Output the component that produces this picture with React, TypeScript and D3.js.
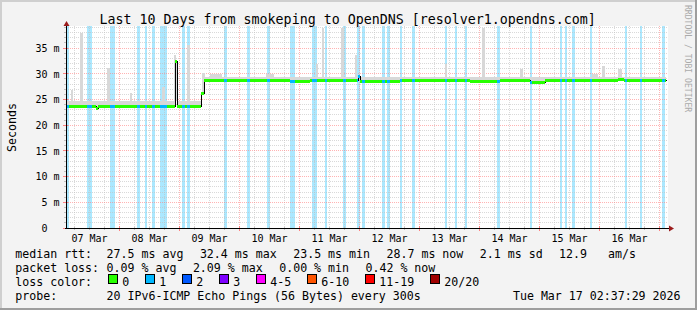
import React from 'react';
import * as d3 from 'd3';

// ---------- data ----------
const titleText = 'Last 10 Days from smokeping to OpenDNS [resolver1.opendns.com]';
const dayLabels = ['07 Mar', '08 Mar', '09 Mar', '10 Mar', '11 Mar', '12 Mar', '13 Mar', '14 Mar', '15 Mar', '16 Mar'];
const yTicks = [0, 5, 10, 15, 20, 25, 30, 35];
const yTickLabels = ['0  ', '5 m', '10 m', '15 m', '20 m', '25 m', '30 m', '35 m'];
const totalHours = 240; // 10 days
const firstMidnightH = 21.375; // start = Mar 7 02:37:29
const yMax = 39.3;

// median rtt: [startHour, endHour, ms]
const medianSegments: [number, number, number][] = [
  [0, 12.0, 23.6], [12.0, 12.8, 23.3], [12.8, 43.6, 23.6], [43.6, 44.4, 32.4],
  [44.4, 54.0, 23.6], [54.0, 55.4, 26.1], [55.4, 80.8, 28.7], [80.8, 89.6, 28.6],
  [89.6, 97.6, 28.5], [97.6, 111.6, 28.7], [111.6, 116.8, 28.6], [116.8, 117.6, 29.4],
  [117.6, 133.6, 28.5], [133.6, 141.6, 28.7], [141.6, 161.6, 28.6], [161.6, 173.6, 28.5],
  [173.6, 185.6, 28.6], [185.6, 191.6, 28.4], [191.6, 197.6, 28.6], [197.6, 213.6, 28.7],
  [213.6, 220.8, 28.6], [220.8, 223.2, 28.9], [223.2, 240, 28.7],
];
// loss events (1/20 lost): [startHour, durationHours]
const lossEvents: [number, number][] = [
  [0, 1.2], [8.4, 2.0], [17.6, 2.0], [28.4, 1.2], [31.6, 0.8], [34.4, 1.2], [37.6, 2.8],
  [46.4, 1.2], [48.4, 1.2], [63.2, 1.2], [72.4, 1.2], [80.4, 1.2], [89.6, 2.0], [98.4, 2.0],
  [103.6, 0.8], [110.8, 1.2], [116.4, 1.2], [118.4, 1.2], [126.4, 1.2], [128.4, 1.2],
  [133.6, 0.8], [138.4, 1.2], [151.6, 0.8], [155.6, 0.8], [159.6, 0.8], [172.4, 1.2],
  [185.6, 0.8], [197.6, 0.8], [199.6, 0.8], [202.4, 1.2], [209.6, 0.8], [223.6, 0.8],
  [229.6, 0.8], [238.4, 1.2],
];
// smoke upper edge base: [startHour, endHour, ms]
const smokeSegments: [number, number, number][] = [
  [0, 54.0, 24.8], [54.0, 55.4, 26.5], [55.4, 240, 29.4],
];
// smoke spikes: [startHour, durationHours, ms]
const smokeSpikes: [number, number, number][] = [
  [2.0, 0.8, 26.8], [5.6, 1.2, 38.0], [16.4, 1.2, 31.1], [25.6, 0.8, 26.3], [38.4, 1.2, 27.5],
  [43.2, 0.8, 33.6], [48.4, 1.2, 35.6], [54.4, 1.2, 30.1], [57.6, 4.8, 29.9], [80.0, 3.2, 29.9],
  [100.0, 0.8, 32.0], [102.4, 0.8, 39.0], [110.0, 1.2, 39.0], [115.6, 0.8, 33.6],
  [151.6, 0.8, 32.0], [166.4, 1.2, 38.9], [181.6, 1.2, 31.0], [210.4, 2.4, 29.9],
  [214.4, 1.2, 31.5], [220.8, 1.6, 31.0],
];

const lossLabels = ['0', '1', '2', '3', '4-5', '6-10', '11-19', '20/20'];
const lossColors = ['#26ff00', '#00b8ff', '#0059ff', '#7e00ff', '#ff00ff', '#ff5500', '#ff0000', '#a00000'];
const medianStats = ['27.5 ms avg', '32.4 ms max', '23.5 ms min', '28.7 ms now', '2.1 ms sd', '12.9   am/s'];
const lossStats = ['0.09 % avg', '2.09 % max', '0.00 % min', '0.42 % now'];
const probeText = '20 IPv6-ICMP Echo Pings (56 Bytes) every 300s';
const dateText = 'Tue Mar 17 02:37:29 2026';

// ---------- layout ----------
const W = 697, H = 310;
const PL = 66, PR = 666, PT = 26, PB = 228;
const FONT = "'DejaVu Sans Mono', monospace";
const STEP = 0.4;
const CHAR_W = 7.0;
const ITEM_GAP = 16.3;

function lookup(segs: [number, number, number][], h: number) {
  for (const s of segs) if (h >= s[0] && h < s[1]) return s[2];
  return segs[segs.length - 1][2];
}

function flow(items: string[], x0: number) {
  const xs: number[] = [];
  let x = x0;
  items.forEach(s => { xs.push(x); x += s.length * CHAR_W + ITEM_GAP; });
  return xs;
}

export default function App() {
  const xs = d3.scaleLinear().domain([0, totalHours]).range([PL, PR]);
  const ys = d3.scaleLinear().domain([0, yMax]).range([PB, PT]);
  const px = (v: number) => Math.floor(v) + 0.5;

  const n = Math.round(totalHours / STEP);
  const samples = d3.range(n).map(i => {
    const h = i * STEP;
    const c = h + STEP / 2;
    const med = lookup(medianSegments, c);
    let top = lookup(smokeSegments, c);
    for (const s of smokeSpikes) if (c >= s[0] && c < s[0] + s[1]) top = Math.max(top, s[2]);
    let loss = 0;
    for (const e of lossEvents) if (c >= e[0] && c < e[0] + e[1]) loss = 1;
    return { h, med, top, loss };
  });
  const ext = [...samples, { ...samples[n - 1], h: totalHours }];

  const smokeArea = d3.area<any>().curve(d3.curveStepAfter)
    .x(d => xs(d.h)).y0(d => ys(d.med - 0.25)).y1(d => ys(d.top))(ext) || '';
  const medLine = d3.line<any>().curve(d3.curveStepAfter)
    .x(d => Math.round(xs(d.h)) + 0.5).y(d => px(ys(d.med)))(ext) || '';

  const runs: { h0: number; h1: number; v: number; loss: number }[] = [];
  samples.forEach(s => {
    const last = runs[runs.length - 1];
    if (last && last.v === s.med && last.loss === s.loss) last.h1 = s.h + STEP;
    else runs.push({ h0: s.h, h1: s.h + STEP, v: s.med, loss: s.loss });
  });

  const yMinor = d3.range(0, Math.floor(yMax) + 1, 1).filter(v => v % 5 !== 0);
  const xMajor: number[] = [];
  const xMinor: number[] = [];
  for (let h = firstMidnightH - 24; h <= totalHours; h += 6) {
    if (h <= 0) continue;
    const k = Math.round((h - firstMidnightH) / 6);
    if (k % 4 === 0) xMajor.push(h); else xMinor.push(h);
  }
  const noonH = dayLabels.map((_, i) => firstMidnightH - 12 + 24 * i);

  const minorColor = 'rgba(192,192,192,0.6)';
  const majorColor = 'rgba(255,128,128,0.6)';

  const boxXs: number[] = [];
  let bx = 108.3;
  lossLabels.forEach(l => { boxXs.push(bx); bx += 14.7 + l.length * CHAR_W + 15.3; });

  const row1X = flow(medianStats, 107.3);
  const row2X = flow(lossStats, 107.3);
  const rowY = [258.3, 272.2, 286.1, 300];

  return (
    <svg width={W} height={H} style={{ position: 'absolute', left: 0, top: 0 }}
      xmlns="http://www.w3.org/2000/svg" fontFamily={FONT}>
      <rect x={0} y={0} width={W} height={H} fill="#f3f3f3" />
      <rect x={0} y={0} width={W} height={2} fill="#cfcfcf" />
      <rect x={0} y={0} width={2} height={H} fill="#cfcfcf" />
      <rect x={0} y={H - 2} width={W} height={2} fill="#9e9e9e" />
      <rect x={W - 2} y={0} width={2} height={H} fill="#9e9e9e" />

      <rect x={PL} y={PT} width={PR - PL + 2} height={PB - PT} fill="#ffffff" />

      {lossEvents.map((e, i) => (
        <rect key={'b' + i} x={xs(e[0])} y={PT} width={xs(e[0] + e[1]) - xs(e[0])} height={PB - PT}
          fill="#abe8ff" shapeRendering="crispEdges" />
      ))}

      <g shapeRendering="crispEdges" strokeWidth={1}>
        {yMinor.map(v => (
          <line key={'ym' + v} x1={PL} x2={PR + 2} y1={px(ys(v))} y2={px(ys(v))} stroke={minorColor} strokeDasharray="1,1" />
        ))}
        {xMinor.map(h => (
          <line key={'xm' + h} x1={px(xs(h))} x2={px(xs(h))} y1={PT} y2={PB} stroke={minorColor} strokeDasharray="1,1" />
        ))}
        {yTicks.filter(v => v > 0).map(v => (
          <line key={'yM' + v} x1={PL} x2={PR + 2} y1={px(ys(v))} y2={px(ys(v))} stroke={majorColor} strokeDasharray="1,1" />
        ))}
        {xMajor.map(h => (
          <line key={'xM' + h} x1={px(xs(h))} x2={px(xs(h))} y1={PT} y2={PB} stroke={majorColor} strokeDasharray="1,1" />
        ))}
        {yMinor.map(v => (
          <line key={'ymt' + v} x1={PL - 2} x2={PL + 1} y1={px(ys(v))} y2={px(ys(v))} stroke="#c0c0c0" />
        ))}
        {yTicks.map(v => (
          <line key={'yMt' + v} x1={PL - 3} x2={PL + 2} y1={px(ys(v))} y2={px(ys(v))} stroke="#ff8080" />
        ))}
        {xMinor.map(h => (
          <line key={'xmt' + h} x1={px(xs(h))} x2={px(xs(h))} y1={PB - 1} y2={PB + 2} stroke="#c0c0c0" />
        ))}
        {xMajor.map(h => (
          <line key={'xMt' + h} x1={px(xs(h))} x2={px(xs(h))} y1={PB - 2} y2={PB + 3} stroke="#ff8080" />
        ))}
      </g>

      <path d={smokeArea} fill="#d8d8d8" shapeRendering="crispEdges" />
      <path d={medLine} fill="none" stroke="#000" strokeWidth={1} shapeRendering="crispEdges" />
      <g shapeRendering="crispEdges">
        {runs.map((r, i) => (
          <line key={'r' + i} x1={xs(r.h0)} x2={xs(r.h1)} y1={px(ys(r.v))} y2={px(ys(r.v))}
            stroke={lossColors[r.loss]} strokeWidth={3} />
        ))}
      </g>

      <g shapeRendering="crispEdges">
        <line x1={PL + 0.5} x2={PL + 0.5} y1={PT - 2} y2={PB + 1} stroke="#000" />
        <line x1={PL - 1} x2={PR + 6} y1={PB + 0.5} y2={PB + 0.5} stroke="#000" />
      </g>
      <path d={`M${PL - 2.5},${PT} L${PL + 0.5},${PT - 5} L${PL + 3.5},${PT} Z`} fill="#9b1c1c" />
      <path d={`M${PR + 3},${PB - 2.5} L${PR + 8},${PB + 0.5} L${PR + 3},${PB + 3.5} Z`} fill="#9b1c1c" />

      {yTicks.map((v, i) => (
        <text key={'yl' + v} x={59.5} y={ys(v) + 3.7} fontSize={10} textAnchor="end"
          xmlSpace="preserve" fill="#000">{yTickLabels[i]}</text>
      ))}
      {dayLabels.map((l, i) => (
        <text key={'xl' + i} x={xs(noonH[i])} y={241.5} fontSize={10} textAnchor="middle" fill="#000">{l}</text>
      ))}

      <text x={99.5} y={24} fontSize={13.3} fill="#000">{titleText}</text>
      <text transform="translate(15.5,127.5) rotate(-90)" fontSize={11.6} textAnchor="middle" fill="#000">Seconds</text>
      <text transform="translate(684.5,5) rotate(90)" fontSize={8.1} fill="#aaaaaa">RRDTOOL / TOBI OETIKER</text>

      <g fontSize={11.6} fill="#000">
        <text x={15.3} y={rowY[0]}>median rtt:</text>
        {medianStats.map((s, i) => <text key={'m' + i} x={row1X[i] - 0.7} y={rowY[0]} xmlSpace="preserve">{s}</text>)}
        <text x={15.3} y={rowY[1]}>packet loss:</text>
        {lossStats.map((s, i) => <text key={'l' + i} x={row2X[i] - 0.7} y={rowY[1]} xmlSpace="preserve">{s}</text>)}
        <text x={15.3} y={rowY[2]}>loss color:</text>
        {lossLabels.map((l, i) => (
          <g key={'lc' + i}>
            <rect x={Math.round(boxXs[i]) + 0.5} y={274.5} width={9} height={9} fill={lossColors[i]} stroke="#000" strokeWidth={1} />
            <text x={boxXs[i] + 14.7 - 0.7} y={rowY[2]}>{l}</text>
          </g>
        ))}
        <text x={15.3} y={rowY[3]}>probe:</text>
        <text x={106.6} y={rowY[3]}>{probeText}</text>
        <text x={680.5} y={rowY[3]} textAnchor="end">{dateText}</text>
      </g>
    </svg>
  );
}
